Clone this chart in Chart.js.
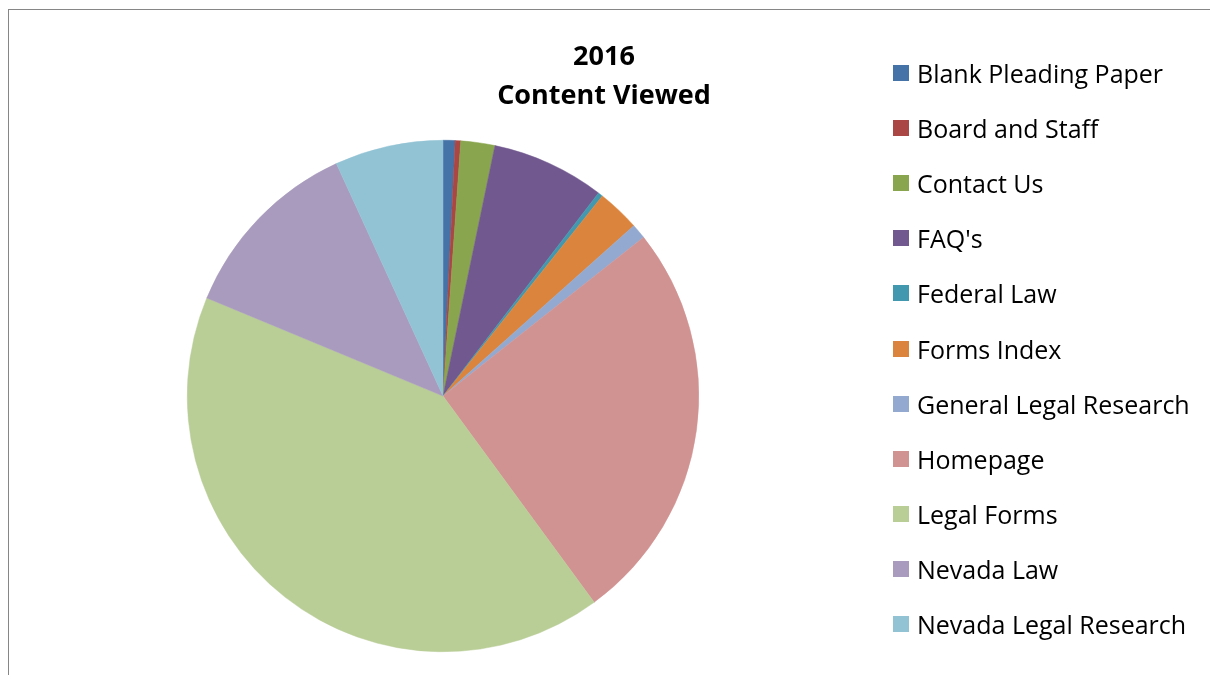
<!DOCTYPE html>
<html>
<head>
<meta charset="utf-8">
<script src="https://cdn.jsdelivr.net/npm/chart.js@4.4.1/dist/chart.umd.min.js"></script>
<style>
  html, body { margin: 0; padding: 0; background: #fff; overflow: hidden; }
  body { width: 1210px; height: 675px; position: relative; font-family: 'Open Sans', Lato, sans-serif; }
  #frame { position: absolute; left: 8px; top: 9px; width: 1220px; height: 700px; border: 1px solid #868686; }
  #pieChart { position: absolute; left: 0; top: 0; }
  #title { position: absolute; left: 404px; top: 35px; width: 400px; text-align: center;
           font-weight: bold; font-size: 27px; line-height: 39px; color: #000; }
  #legend { position: absolute; left: 893px; top: 45px; margin: 0; padding: 0; list-style: none; }
  #legend li { height: 55.2px; display: flex; align-items: center; font-size: 25px; color: #000; white-space: nowrap; }
  #legend li span.box { display: inline-block; width: 16px; height: 16px; margin-right: 8px; }
</style>
</head>
<body>
<div id="frame"></div>
<canvas id="pieChart" width="1210" height="675"></canvas>
<div id="title">2016<br>Content Viewed</div>
<ul id="legend"></ul>
<script>
// content viewed in 2016 (share of views)
const pages = ['Blank Pleading Paper', 'Board and Staff', 'Contact Us', "FAQ's", 'Federal Law',
  'Forms Index', 'General Legal Research', 'Homepage', 'Legal Forms', 'Nevada Law', 'Nevada Legal Research'];
const views = [0.76, 0.35, 2.15, 7.15, 0.3, 2.7, 0.95, 25.6, 41.35, 11.9, 6.85];
const colors = ['#4572A7', '#AA4643', '#89A54E', '#71588F', '#4198AF',
  '#DB843D', '#93A9CF', '#D19392', '#B9CD96', '#A99BBD', '#92C3D4'];

const pieEl = document.getElementById('pieChart');
const pieChart = new Chart(pieEl, {
  type: 'pie',
  data: {
    labels: pages,
    datasets: [{
      data: views,
      backgroundColor: colors,
      borderColor: colors,
      borderWidth: 0.5
    }]
  },
  options: {
    responsive: false,
    animation: false,
    layout: {
      padding: { left: 187, top: 140, right: 511, bottom: 23 }
    },
    plugins: {
      legend: { display: false },
      tooltip: { enabled: false }
    }
  }
});

// legend on the right, built from the chart's own labels
const legendEl = document.getElementById('legend');
const items = Chart.overrides.pie.plugins.legend.labels.generateLabels(pieChart);
items.forEach(function(item) {
  const li = document.createElement('li');
  const box = document.createElement('span');
  box.className = 'box';
  box.style.background = item.fillStyle;
  li.appendChild(box);
  li.appendChild(document.createTextNode(item.text));
  legendEl.appendChild(li);
});
</script>
</body>
</html>
